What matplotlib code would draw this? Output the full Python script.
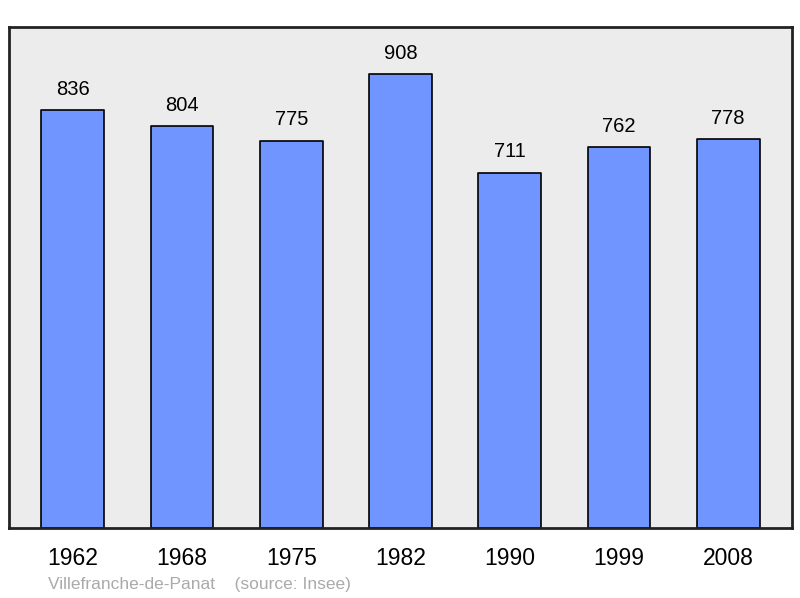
import matplotlib.pyplot as plt

years = ["1962", "1968", "1975", "1982", "1990", "1999", "2008"]
population = [836, 804, 775, 908, 711, 762, 778]

plt.rcParams["font.family"] = ["Liberation Sans", "DejaVu Sans"]

fig = plt.figure(figsize=(8, 5.98), dpi=100)
ax = fig.add_axes([9 / 800, 1 - 528 / 598, 783 / 800, 501 / 598])
ax.set_facecolor("#ececec")

x = range(len(years))
ax.bar(x, population, width=0.575, color="#7095ff", edgecolor="black",
       linewidth=1.2, joinstyle="round")

for i, v in zip(x, population):
    ax.annotate(str(v), (i, v), xytext=(0, 8), textcoords="offset points",
                ha="center", va="bottom", fontsize=14.5)

ax.set_xlim(-0.585, 6.585)
ax.set_ylim(0, 1002)
ax.set_yticks([])
ax.set_xticks(list(x))
ax.set_xticklabels(years, fontsize=16.5)
ax.tick_params(axis="x", length=0, pad=14)

for side in ax.spines.values():
    side.set_linewidth(2)
    side.set_edgecolor("#222222")
    side.set_joinstyle("round")

fig.text(48 / 800, 1 - 584 / 598, "Villefranche-de-Panat    (source: Insee)",
         color="#aaaaaa", fontsize=12.5, va="center", ha="left")

fig.savefig("out.png", dpi=100)
